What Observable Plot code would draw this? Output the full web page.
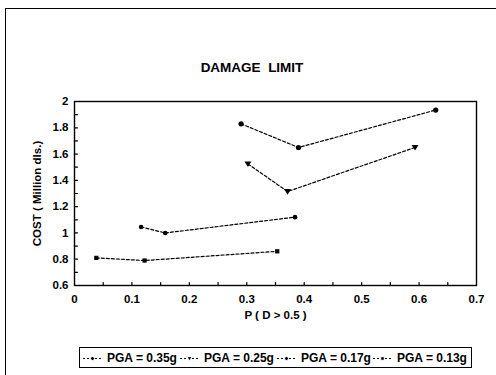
<!DOCTYPE html>
<html><head><meta charset="utf-8">
<script src="https://cdn.jsdelivr.net/npm/d3@7"></script>
<script src="https://cdn.jsdelivr.net/npm/@observablehq/plot@0.6"></script>
<style>
body{margin:0;background:#fff;font-family:"Liberation Sans",Arial,sans-serif;}
#wrap{position:relative;width:496px;height:375px;overflow:hidden;background:#fff}
#border{position:absolute;left:5px;top:8px;width:600px;height:600px;border-left:1.5px solid #000;border-top:1.5px solid #000}
#title{position:absolute;left:0;width:504px;top:60px;text-align:center;font-size:13.5px;font-weight:bold;white-space:pre;line-height:16px}
#chart{position:absolute;left:0;top:90px}
#legend{position:absolute;left:79px;top:347px;width:388px;height:19px;border:1.3px solid #000;display:flex;align-items:center;justify-content:flex-start;font-size:12px;font-weight:bold;padding:0 0 0 3px;overflow:hidden}
#legend .it{display:flex;align-items:center;white-space:nowrap;flex:none}
#legend svg{margin-right:6px;flex:none}
</style></head><body>
<div id="wrap">
 <div id="border"></div>
 <div id="title">DAMAGE  LIMIT</div>
 <div id="chart"></div>
 <div id="legend"></div>
</div>
<script>
// Data
const seriesNames = ["PGA = 0.35g", "PGA = 0.25g", "PGA = 0.17g", "PGA = 0.13g"];
const p035 = [0.29, 0.39, 0.629];
const cost035 = [1.83, 1.65, 1.935];
const p025 = [0.302, 0.371, 0.593];
const cost025 = [1.525, 1.315, 1.65];
const p017 = [0.116, 0.158, 0.384];
const cost017 = [1.045, 1.0, 1.12];
const p013 = [0.038, 0.122, 0.353];
const cost013 = [0.81, 0.79, 0.86];
const xTicks = [0, 0.1, 0.2, 0.3, 0.4, 0.5, 0.6, 0.7];
const yTicks = [0.6, 0.8, 1, 1.2, 1.4, 1.6, 1.8, 2];
const xMinor = [0.05, 0.1, 0.15, 0.2, 0.25, 0.3, 0.35, 0.4, 0.45, 0.5, 0.55, 0.6, 0.65];
const yMinor = [0.7, 0.8, 0.9, 1, 1.1, 1.2, 1.3, 1.4, 1.5, 1.6, 1.7, 1.8, 1.9];
const legendItemWidths = [97, 97, 96, 80];

const triDown = {draw(ctx, size) {
  const h = Math.sqrt(size) * 0.75;
  ctx.moveTo(-h, -h * 0.7); ctx.lineTo(h, -h * 0.7); ctx.lineTo(0, h * 0.9); ctx.closePath();
}};
const tickShape = {draw(ctx, l) { ctx.moveTo(0, 0); ctx.lineTo(0, -l); }};
const symbols = ["circle", triDown, "circle", "square"];
const radii = [2.6, 2.6, 2.3, 2.4];

const xs = [p035, p025, p017, p013];
const ys = [cost035, cost025, cost017, cost013];
const data = [];
seriesNames.forEach((s, i) => xs[i].forEach((x, j) => data.push({s, x, y: ys[i][j]})));

const font = {fontFamily: "Liberation Sans, Arial, sans-serif", fontWeight: "bold"};
const fmt = d => String(+d.toFixed(2));

const plot = Plot.plot({
  width: 496, height: 240,
  marginLeft: 74, marginRight: 20, marginTop: 11, marginBottom: 45,
  style: {...font, fontSize: "11.5px", background: "transparent", color: "#000"},
  x: {domain: [0, 0.7]},
  y: {domain: [0.6, 2]},
  marks: [
    Plot.vector(xMinor, {x: d => d, frameAnchor: "bottom", length: 3, rotate: 0, anchor: "start", shape: tickShape, stroke: "#000", strokeWidth: 1.2}),
    Plot.vector(yMinor, {y: d => d, frameAnchor: "left", length: 3, rotate: 90, anchor: "start", shape: tickShape, stroke: "#000", strokeWidth: 1.2}),
    Plot.axisX({ticks: xTicks, tickSize: 0, tickPadding: 9, tickFormat: fmt, fontSize: 11.5, ...font,
      label: "P ( D > 0.5 )", labelAnchor: "center", labelArrow: "none", labelOffset: 33}),
    Plot.axisY({ticks: yTicks, tickSize: 0, tickPadding: 6, tickFormat: fmt, fontSize: 11.5, ...font,
      label: "COST ( Million dls.)", labelAnchor: "center", labelArrow: "none", labelOffset: 42}),
    Plot.line(data, {x: "x", y: "y", z: "s", stroke: "#000", strokeWidth: 1.2, strokeDasharray: "3,2"}),
    ...seriesNames.map((s, i) => Plot.dot(data.filter(d => d.s === s), {x: "x", y: "y", symbol: symbols[i], r: radii[i], fill: "#000", stroke: "none"})),
    Plot.frame({stroke: "#000", strokeWidth: 1.4})
  ]
});
document.getElementById("chart").append(plot);

// Legend
const legend = document.getElementById("legend");
seriesNames.forEach((s, i) => {
  const it = document.createElement("div");
  it.className = "it";
  it.style.width = legendItemWidths[i] + "px";
  const sw = Plot.plot({
    width: 18, height: 10, margin: 0, axis: null,
    x: {domain: [0, 1]}, y: {domain: [0, 1]},
    style: {background: "transparent"},
    marks: [
      Plot.ruleY([0.5], {x1: 0, x2: 1, stroke: "#000", strokeWidth: 1.1, strokeDasharray: "2,2"}),
      Plot.dot([0.5], {x: d => d, y: 0.5, symbol: symbols[i], r: 2, fill: "#000", stroke: "#fff", strokeWidth: 1})
    ]
  });
  it.append(sw);
  const t = document.createElement("span");
  t.textContent = s;
  it.append(t);
  legend.append(it);
});
</script>
</body></html>
